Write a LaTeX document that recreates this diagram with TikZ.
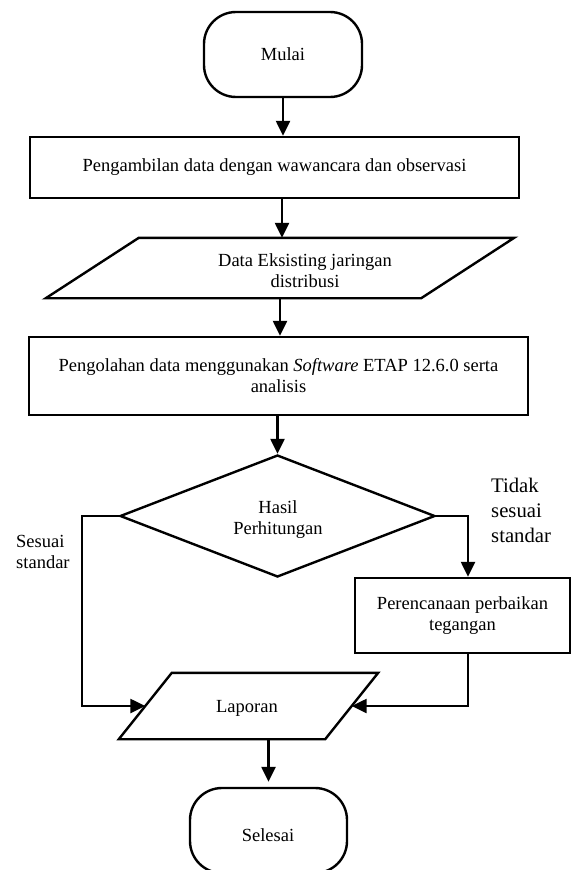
\documentclass[tikz,border=0pt]{standalone}
\usepackage{fontspec}
\setmainfont{Liberation Serif}
\usetikzlibrary{shapes.geometric,arrows.meta}
\begin{document}
\begin{tikzpicture}[x=1pt,y=-1pt,
  line width=2.4pt,
  every node/.style={font=\fontsize{18.5}{21}\selectfont, inner sep=0pt},
  terminal/.style={draw, rectangle, rounded corners=32pt, minimum width=158pt, minimum height=85pt},
  process/.style={draw, rectangle, align=center},
  flow/.style={-{Triangle[length=15pt,width=14pt]}, line width=2.4pt},
  sidenote/.style={align=left, anchor=west}
]
\useasboundingbox (0,0) rectangle (573,870);
\clip (0,0) rectangle (573,870);

% start
\node[terminal] (mulai) at (283,54.5) {Mulai};

% data collection
\node[process, minimum width=489pt, minimum height=61pt] (ambil) at (274.5,167.5)
  {Pengambilan data dengan wawancara dan observasi};

% existing data (input)
\node[minimum width=466pt, minimum height=58pt] (data) at (280,268) {};
\draw ([xshift=93pt]data.north west) -- (data.north east)
  -- ([xshift=-93pt]data.south east) -- (data.south west) -- cycle;
\begin{scope}
  \clip (0,240) rectangle (573,287);
  \node[align=center] (datatext) at (305,270.5) {Data Eksisting jaringan\\distribusi};
\end{scope}

% processing
\node[process, minimum width=499pt, minimum height=78pt] (olah) at (278.5,376)
  {Pengolahan data menggunakan \textit{Software} ETAP 12.6.0 serta\\analisis};

% decision
\node[draw, diamond, minimum width=315pt, minimum height=122pt] (hasil) at (277.5,516) {};
\begin{scope}
  \clip (0,490) rectangle (573,538);
  \node[align=center] (hasiltext) at (278,520) {Hasil\\Perhitungan};
\end{scope}

% improvement planning
\node[process, minimum width=215pt, minimum height=75pt] (plan) at (462.5,615.5)
  {Perencanaan perbaikan\\tegangan};

% report (output)
\node[minimum width=257pt, minimum height=64pt] (lap) at (248.5,706) {};
\draw ([xshift=53pt]lap.north west) -- (lap.north east)
  -- ([xshift=-53pt]lap.south east) -- (lap.south west) -- cycle;
\node (laptext) at (247,708) {Laporan};

% end
\node[terminal, minimum width=157pt] (selesai) at (268.5,830.5) {};
\node (selesaitext) at (268,835) {Selesai};

% branch labels
\node[sidenote, font=\fontsize{20.7}{25}\selectfont] (tidak) at (490,510) {Tidak\\sesuai\\standar};
\node[sidenote] (sesuai) at (15,552) {Sesuai\\standar};

% connectors
\draw[flow] (mulai.south) -- (mulai.south |- ambil.north);
\draw[flow] ([xshift=7.5pt]ambil.south) -- ([xshift=7.5pt]ambil.south |- data.north);
\draw[flow] (data.south) -- (data.south |- olah.north);
\draw[flow] (hasil.north |- olah.south) -- (hasil.north);
\draw[flow] (hasil.west) -- ++(-37,0) |- ([xshift=26.5pt]lap.west);
\draw[flow] (hasil.east) -| ([xshift=5.5pt]plan.north);
\draw[flow] ([xshift=5.5pt]plan.south) |- ([xshift=-26.5pt]lap.east);
\draw[flow, shorten >=5pt] (selesai.north |- lap.south) -- (selesai.north);
\end{tikzpicture}
\end{document}
